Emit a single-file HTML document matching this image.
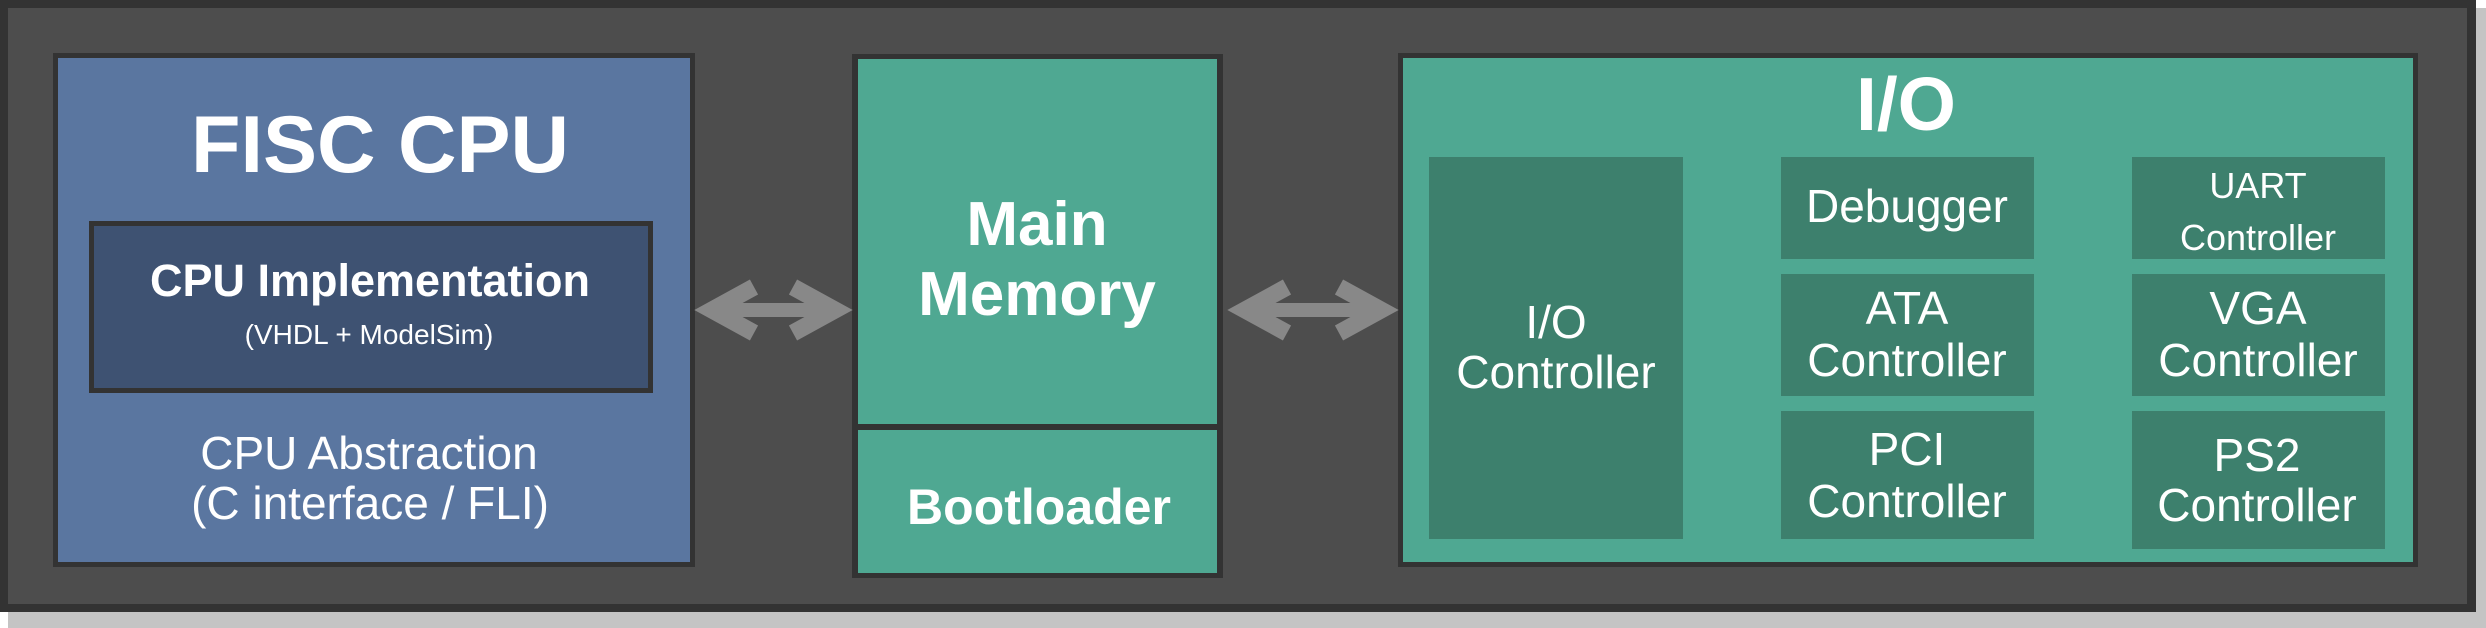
<!DOCTYPE html>
<html><head><meta charset="utf-8"><style>
html,body{margin:0;padding:0;background:#fff;width:2486px;height:628px;overflow:hidden}
</style></head><body>
<svg width="2486" height="628" xmlns="http://www.w3.org/2000/svg" style="display:block">
<rect x="8" y="8" width="2478" height="620" fill="#c4c4c4"/>
<rect x="0" y="0" width="2476" height="612" fill="#333"/>
<rect x="8" y="8" width="2459" height="596" fill="#4d4d4d"/>
<!-- CPU -->
<rect x="53" y="53" width="642" height="514" fill="#333"/>
<rect x="58" y="58" width="632" height="504" fill="#5a76a0"/>
<rect x="89" y="221" width="564" height="172" fill="#333"/>
<rect x="94" y="226" width="554" height="162" fill="#3e5272"/>
<!-- Memory -->
<rect x="852" y="54" width="371" height="524" fill="#333"/>
<rect x="858" y="59" width="359" height="365" fill="#4fa892"/>
<rect x="858" y="430" width="359" height="143" fill="#4fa892"/>
<!-- IO -->
<rect x="1398" y="53" width="1020" height="514" fill="#333"/>
<rect x="1403" y="58" width="1010" height="504" fill="#4fa892"/>
<g fill="#3d806d">
<rect x="1429" y="157" width="254" height="382"/>
<rect x="1781" y="157" width="253" height="102"/>
<rect x="1781" y="274" width="253" height="122"/>
<rect x="1781" y="411" width="253" height="128"/>
<rect x="2132" y="157" width="253" height="102"/>
<rect x="2132" y="274" width="253" height="122"/>
<rect x="2132" y="411" width="253" height="138"/>
</g>
<!-- arrows -->
<g stroke="#888" fill="none" stroke-width="17" stroke-linejoin="miter" stroke-miterlimit="10">
<line x1="712" y1="310" x2="835" y2="310" stroke-width="14"/>
<polyline points="754,287 712,310 754,333"/>
<polyline points="793,287 835,310 793,333"/>
<line x1="1245" y1="310" x2="1381" y2="310" stroke-width="14"/>
<polyline points="1287,287 1245,310 1287,333"/>
<polyline points="1339,287 1381,310 1339,333"/>
</g>
<g fill="#fff" font-family="Liberation Sans, sans-serif" text-anchor="middle">
<text x="380" y="172" font-size="81" font-weight="bold">FISC CPU</text>
<text x="370" y="296" font-size="45" font-weight="bold">CPU Implementation</text>
<text x="369" y="344" font-size="28">(VHDL + ModelSim)</text>
<text x="369" y="469" font-size="46">CPU Abstraction</text>
<text x="370" y="519" font-size="46">(C interface / FLI)</text>
<text x="1037" y="245" font-size="62" font-weight="bold">Main</text>
<text x="1037" y="315" font-size="62" font-weight="bold">Memory</text>
<text x="1039" y="524" font-size="50" font-weight="bold">Bootloader</text>
<text x="1906" y="130" font-size="75" font-weight="bold">I/O</text>
<text x="1556" y="338" font-size="46">I/O</text>
<text x="1556" y="388" font-size="46">Controller</text>
<text x="1907" y="222" font-size="46">Debugger</text>
<text x="1907" y="324" font-size="46">ATA</text>
<text x="1907" y="376" font-size="46">Controller</text>
<text x="1907" y="465" font-size="46">PCI</text>
<text x="1907" y="517" font-size="46">Controller</text>
<text x="2258" y="198" font-size="36">UART</text>
<text x="2258" y="250" font-size="36">Controller</text>
<text x="2258" y="324" font-size="46">VGA</text>
<text x="2258" y="376" font-size="46">Controller</text>
<text x="2257" y="471" font-size="46">PS2</text>
<text x="2257" y="521" font-size="46">Controller</text>
</g>
</svg>
</body></html>
